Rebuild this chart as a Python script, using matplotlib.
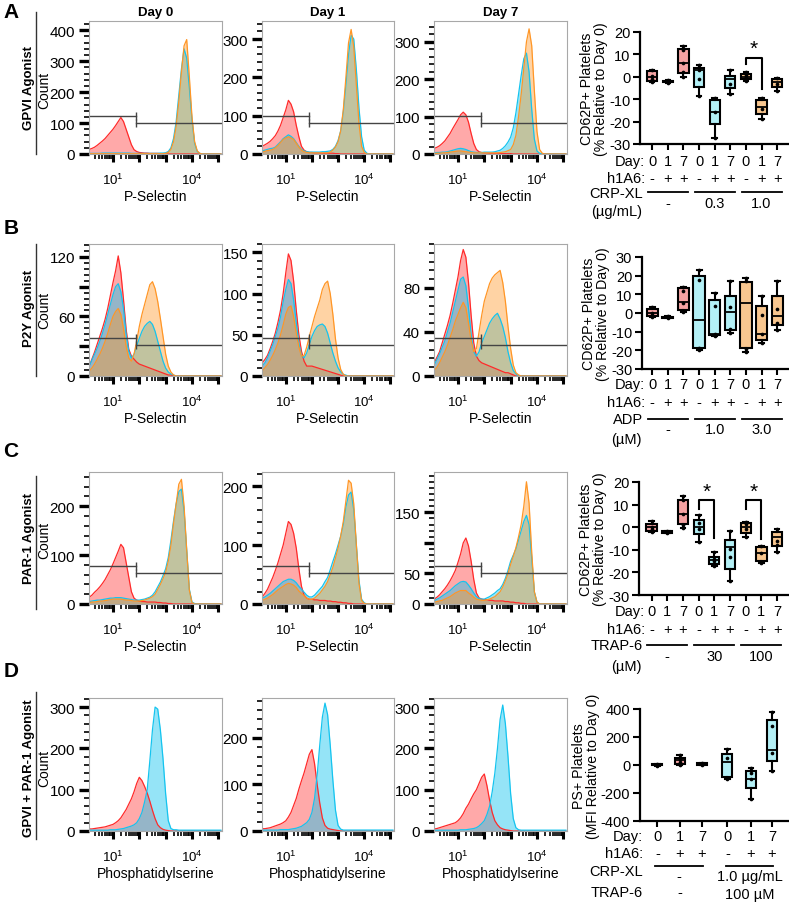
import numpy as np
import matplotlib
matplotlib.use('Agg')
import matplotlib.pyplot as plt
from matplotlib.ticker import FixedLocator, FixedFormatter, AutoMinorLocator, NullFormatter
from matplotlib.transforms import blended_transform_factory

plt.rcParams['font.family'] = ['Liberation Sans', 'DejaVu Sans']
plt.rcParams['mathtext.fontset'] = 'custom'
plt.rcParams['mathtext.rm'] = 'Liberation Sans'
plt.rcParams['mathtext.it'] = 'Liberation Sans:italic'
plt.rcParams['axes.unicode_minus'] = False

W, H = 789, 903
fig = plt.figure(figsize=(W / 100, H / 100), dpi=100)

# ---------------- histogram data (log10 fluorescence grid, counts) ----------------
LOGX = [0.1, 0.2, 0.3, 0.4, 0.5, 0.6, 0.7, 0.8, 0.9, 1.0,
        1.1, 1.2, 1.3, 1.4, 1.5, 1.6, 1.7, 1.8, 1.9, 2.0,
        2.1, 2.2, 2.3, 2.4, 2.5, 2.6, 2.7, 2.8, 2.9, 3.0,
        3.1, 3.2, 3.3, 3.4, 3.5, 3.6, 3.7, 3.8, 3.9, 4.0,
        4.1, 4.2, 4.3, 4.4, 4.5, 4.6, 4.7, 4.8, 4.9, 5.0, 5.1]
Z10 = [0] * 10

A0_red = [15, 18, 22, 28, 35, 42, 50, 60, 70, 80, 92, 105, 118, 105, 80, 55, 30, 14, 8, 5,
          4, 3, 3, 2, 2, 2, 2, 1, 1, 1] + Z10 + Z10 + [0]
A0_cyan = [2, 2, 2, 2, 2, 3, 3, 3, 3, 3, 3, 3, 3, 3, 3, 3, 2, 2, 2, 2,
           2, 2, 2, 2, 2, 2, 2, 3, 3, 4, 8, 20, 50, 105, 190, 275, 340, 310, 215, 110,
           35, 8, 2, 0, 0, 0, 0, 0, 0, 0, 0]
A0_orange = [1] * 20 + [1, 1, 1, 1, 1, 1, 1, 1, 1, 2,
                        5, 15, 40, 90, 170, 265, 350, 370, 250, 120,
                        40, 10, 2, 0, 0, 0, 0, 0, 0, 0, 0]
A1_red = [20, 24, 28, 33, 40, 48, 60, 75, 95, 115, 140, 130, 110, 75, 45, 20, 10, 6, 4, 4,
          3, 3, 3, 2, 2, 2, 2, 2, 1, 1] + Z10 + Z10 + [0]
A1_cyan = [8, 10, 12, 14, 15, 18, 25, 32, 40, 45, 50, 46, 40, 30, 20, 12, 8, 6, 5, 5,
           5, 5, 5, 6, 6, 7, 8, 12, 20, 35, 60, 110, 180, 260, 310, 300, 220, 120, 45, 10,
           2, 0, 0, 0, 0, 0, 0, 0, 0, 0, 0]
A1_orange = [5, 7, 9, 10, 12, 16, 22, 30, 38, 42, 45, 42, 38, 28, 18, 10, 6, 4, 3, 3,
             3, 3, 3, 3, 3, 3, 5, 10, 18, 32, 60, 115, 200, 290, 325, 280, 180, 80, 20, 4,
             0, 0, 0, 0, 0, 0, 0, 0, 0, 0, 0]
A7_red = [15, 18, 22, 28, 35, 45, 55, 68, 80, 92, 105, 112, 105, 85, 55, 28, 12, 6, 4, 3,
          3, 2, 2, 2, 2, 2, 1, 1, 1, 1] + Z10 + Z10 + [0]
A7_cyan = [3, 4, 4, 5, 5, 6, 8, 10, 12, 14, 15, 14, 12, 9, 6, 5, 4, 4, 4, 5,
           5, 5, 5, 6, 8, 10, 15, 22, 32, 45, 70, 110, 160, 210, 255, 270, 220, 120, 40, 8,
           2, 0, 0, 0, 0, 0, 0, 0, 0, 0, 0]
A7_orange = [1, 2, 2, 3, 3, 4, 5, 6, 7, 8, 8, 7, 6, 5, 4, 3, 3, 3, 3, 3,
             3, 3, 3, 3, 3, 4, 5, 6, 9, 12, 25, 50, 100, 160, 230, 300, 335, 290, 170, 60,
             12, 2, 0, 0, 0, 0, 0, 0, 0, 0, 0]

B0_red = [10, 17, 24, 32, 40, 48, 57, 68, 81, 94, 106, 121, 104, 77, 47, 27, 20, 17, 14, 12,
          11, 10, 9, 8, 7, 6, 5, 4, 3, 2, 1, 1, 0, 0, 0, 0, 0, 0, 0, 0] + Z10 + [0]
B0_cyan = [10, 16, 22, 28, 35, 43, 52, 62, 72, 82, 90, 93, 85, 68, 42, 25, 18, 22, 30, 38,
           45, 50, 53, 55, 52, 45, 35, 25, 15, 8, 4, 2, 1, 0, 0, 0, 0, 0, 0, 0] + Z10 + [0]
B0_orange = [5, 8, 12, 17, 22, 28, 35, 43, 52, 60, 65, 68, 62, 48, 30, 18, 15, 22, 35, 50,
             62, 72, 82, 92, 95, 88, 75, 58, 40, 22, 10, 4, 1, 0, 0, 0, 0, 0, 0, 0] + Z10 + [0]
B1_red = [16, 20, 25, 33, 42, 52, 65, 80, 100, 125, 148, 140, 115, 80, 50, 30, 18, 12, 12, 12,
          11, 10, 9, 8, 7, 6, 5, 4, 3, 2, 1, 0, 0, 0, 0, 0, 0, 0, 0, 0] + Z10 + [0]
B1_cyan = [12, 16, 22, 30, 38, 48, 58, 72, 90, 105, 117, 112, 92, 65, 40, 25, 22, 28, 38, 48,
           55, 60, 62, 63, 60, 52, 40, 28, 18, 10, 5, 2, 1, 0, 0, 0, 0, 0, 0, 0] + Z10 + [0]
B1_orange = [6, 10, 14, 19, 25, 32, 40, 50, 62, 75, 83, 85, 72, 52, 35, 24, 25, 35, 48, 60,
             72, 82, 92, 105, 112, 115, 100, 75, 45, 22, 8, 2, 0, 0, 0, 0, 0, 0, 0, 0] + Z10 + [0]
B7_red = [12, 17, 22, 30, 38, 46, 55, 66, 78, 90, 105, 115, 108, 85, 55, 30, 18, 14, 12, 11,
          10, 9, 8, 7, 6, 5, 4, 3, 3, 2, 1, 0, 0, 0, 0, 0, 0, 0, 0, 0] + Z10 + [0]
B7_cyan = [10, 15, 20, 26, 32, 40, 48, 58, 68, 78, 88, 90, 82, 62, 38, 22, 18, 22, 30, 36,
           42, 48, 52, 55, 57, 52, 45, 35, 22, 12, 5, 2, 0, 0, 0, 0, 0, 0, 0, 0] + Z10 + [0]
B7_orange = [5, 8, 12, 17, 22, 28, 35, 42, 50, 56, 62, 67, 62, 48, 32, 22, 25, 40, 55, 68,
             76, 84, 89, 92, 94, 96, 85, 68, 45, 25, 10, 3, 1, 0, 0, 0, 0, 0, 0, 0] + Z10 + [0]

C0_red = [14, 18, 24, 29, 35, 42, 50, 60, 70, 82, 95, 108, 122, 115, 85, 55, 25, 12, 8, 6,
          5, 5, 4, 4, 4, 4, 3, 3, 2, 2, 1, 1, 0, 0, 0, 0, 0, 0, 0, 0] + Z10 + [0]
C0_cyan = [5, 6, 7, 8, 8, 9, 10, 11, 12, 12, 13, 13, 13, 12, 11, 10, 9, 8, 8, 8,
           9, 10, 12, 14, 18, 25, 35, 45, 58, 72, 95, 130, 170, 205, 230, 235, 190, 110, 30, 4,
           1, 0, 0, 0, 0, 0, 0, 0, 0, 0, 0]
C0_orange = [3, 4, 4, 5, 6, 6, 7, 8, 9, 10, 10, 10, 10, 9, 8, 8, 7, 6, 6, 6,
             7, 8, 10, 12, 15, 20, 30, 40, 52, 65, 88, 120, 165, 205, 245, 255, 200, 110, 28, 3,
             0, 0, 0, 0, 0, 0, 0, 0, 0, 0, 0]
C1_red = [12, 18, 25, 35, 45, 57, 70, 85, 100, 120, 140, 135, 120, 95, 60, 30, 15, 10, 8, 8,
          7, 7, 6, 6, 6, 5, 5, 4, 4, 3, 3, 2, 2, 1, 1, 0, 0, 0, 0, 0] + Z10 + [0]
C1_cyan = [10, 12, 15, 18, 22, 26, 30, 34, 38, 40, 42, 42, 40, 36, 30, 25, 20, 15, 12, 12,
           15, 20, 25, 30, 38, 45, 58, 72, 85, 100, 115, 135, 165, 185, 190, 160, 100, 40, 8, 2,
           0, 0, 0, 0, 0, 0, 0, 0, 0, 0, 0]
C1_orange = [6, 8, 10, 13, 16, 20, 24, 27, 30, 33, 35, 34, 32, 28, 22, 18, 14, 10, 8, 8,
             10, 14, 18, 24, 30, 38, 50, 62, 78, 95, 115, 140, 175, 210, 205, 170, 100, 35, 6, 1,
             0, 0, 0, 0, 0, 0, 0, 0, 0, 0, 0]
C7_red = [8, 11, 15, 20, 25, 31, 38, 46, 55, 68, 82, 100, 108, 95, 70, 40, 18, 10, 8, 7,
          7, 6, 6, 5, 5, 5, 5, 4, 4, 3, 3, 2, 2, 1, 1, 0, 0, 0, 0, 0] + Z10 + [0]
C7_cyan = [5, 8, 10, 13, 16, 19, 22, 26, 30, 33, 36, 37, 36, 31, 25, 18, 12, 9, 8, 8,
           10, 12, 15, 18, 22, 25, 32, 42, 55, 70, 80, 90, 105, 120, 135, 145, 130, 75, 20, 3,
           0, 0, 0, 0, 0, 0, 0, 0, 0, 0, 0]
C7_orange = [3, 4, 5, 6, 8, 10, 12, 15, 18, 20, 22, 22, 22, 18, 15, 11, 8, 7, 6, 6,
             7, 8, 10, 12, 16, 20, 28, 38, 50, 65, 78, 92, 110, 130, 160, 200, 165, 85, 20, 3,
             0, 0, 0, 0, 0, 0, 0, 0, 0, 0, 0]

D0_red = [5, 5, 6, 7, 8, 9, 10, 12, 14, 16, 20, 25, 32, 42, 52, 65, 78, 95, 115, 130,
          122, 108, 92, 72, 50, 30, 15, 8, 4, 2, 1, 0, 0, 0, 0, 0, 0, 0, 0, 0] + Z10 + [0]
D0_cyan = [2, 2, 2, 2, 2, 2, 2, 2, 3, 3, 3, 4, 5, 6, 8, 10, 12, 15, 20, 30,
           45, 70, 100, 170, 245, 300, 295, 245, 175, 90, 25, 6, 3, 3, 2, 2, 2, 2, 2, 2,
           2, 2, 2, 2, 2, 2, 2, 2, 2, 2, 2]
D1_red = [5, 5, 6, 7, 9, 11, 13, 15, 18, 22, 30, 40, 55, 70, 90, 108, 125, 145, 165, 175,
          145, 100, 60, 28, 12, 6, 4, 3, 2, 1] + Z10 + Z10 + [0]
D1_cyan = [2, 2, 2, 2, 2, 2, 2, 3, 3, 3, 3, 4, 5, 6, 8, 10, 14, 18, 25, 40,
           70, 120, 185, 245, 275, 250, 185, 110, 45, 12, 4, 2, 2, 2, 2, 2, 2, 2, 2, 2,
           2, 2, 2, 2, 2, 2, 2, 2, 2, 2, 2]
D7_red = [5, 6, 8, 10, 12, 14, 16, 18, 20, 25, 32, 42, 55, 65, 78, 90, 100, 115, 130, 138,
          110, 75, 45, 25, 15, 8, 5, 3, 2, 1] + Z10 + Z10 + [0]
D7_cyan = [2, 2, 2, 2, 2, 2, 2, 2, 2, 2, 3, 3, 3, 4, 5, 6, 8, 12, 18, 25,
           40, 60, 95, 140, 200, 270, 305, 260, 180, 90, 30, 8, 3, 2, 2, 2, 2, 2, 2, 2,
           2, 2, 2, 2, 2, 2, 2, 2, 2, 2, 2]

# y-axis settings of the histograms
HIST_YMAX = {'A': [430, 347, 356], 'B': [133, 160, 120], 'C': [270, 224, 216], 'D': [322, 286, 322]}
HIST_YTICKS = {'A': [[0, 100, 200, 300, 400], [0, 100, 200, 300], [0, 100, 200, 300]],
               'B': [[0, 30, 60, 90, 120], [0, 50, 100, 150], [0, 40, 80]],
               'C': [[0, 100, 200], [0, 100, 200], [0, 50, 100, 150]],
               'D': [[0, 100, 200, 300], [0, 100, 200], [0, 100, 200, 300]]}
HIST_YLABELS = {'A': [['0', '100', '200', '300', '400'], ['0', '100', '200', '300'], ['0', '100', '200', '300']],
                'B': [['0', '', '60', '', '120'], ['0', '50', '100', '150'], ['0', '40', '80']],
                'C': [['0', '100', '200'], ['0', '100', '200'], ['0', '50', '', '150']],
                'D': [['0', '100', '200', '300'], ['0', '100', '200'], ['0', '100', '200', '300']]}
DAYS = ['Day 0', 'Day 1', 'Day 7']
ROW_NAMES = ['GPVI Agonist', 'P2Y Agonist', 'PAR-1 Agonist', 'GPVI + PAR-1 Agonist']
GATE_LOG = 1.89

# ---------------- box plot data ----------------
A_POS = [1, 2, 3, 4, 5, 6, 7, 8, 9]
A_WHISHI = [3.0, -1.5, 13.9, 5.2, -9.4, 3.1, 2.2, -9.4, -0.7]
A_Q3 = [2.7, -1.8, 12.4, 3.9, -10.4, 0.4, 1.2, -10.3, -1.0]
A_MED = [0.0, -2.1, 6.0, 3.0, -15.7, -1.0, 0.0, -13.5, -2.5]
A_Q1 = [-1.8, -2.4, 1.9, -4.5, -20.9, -4.8, -1.0, -16.7, -4.5]
A_WHISLO = [-2.2, -2.6, 0.0, -8.5, -27.2, -7.8, -1.8, -18.7, -6.3]
A_PTS = [[3.0, 0.5, -0.8, -2.2], [-1.5, -2.0, -2.3, -2.6], [13.9, 12.0, 6.0, 2.0, 0.0],
         [5.2, 3.0, -1.2, -8.5], [-9.4, -15.7, -27.2], [3.1, -3.3, -7.8],
         [2.2, 1.0, 0.0, -1.8], [-9.4, -14.5, -18.7], [-0.7, -3.0, -6.3]]

B_POS = [1, 2, 3, 4, 5, 6, 7, 8, 9]
B_WHISHI = [3.0, -1.8, 13.8, 23.3, 10.8, 17.0, 18.8, 9.0, 17.4]
B_Q3 = [2.0, -2.0, 13.3, 19.7, 7.0, 9.3, 16.5, 3.6, 9.0]
B_MED = [0.0, -2.2, 5.7, -3.6, -11.3, 0.7, 5.2, -11.3, -1.4]
B_Q1 = [-1.6, -2.5, 1.8, -18.8, -11.6, -9.0, -19.0, -14.3, -6.5]
B_WHISLO = [-2.3, -2.7, 0.4, -19.7, -12.5, -10.8, -21.1, -16.1, -9.0]
B_PTS = [[3.0, 0.0, -1.0, -2.3], [-1.8, -2.2, -2.7], [13.8, 12.0, 5.5, 1.0, 0.4],
         [23.3, 17.7, -19.0, -19.7], [10.8, 3.6, -11.3, -12.5], [17.0, 3.0, -8.5, -10.8],
         [18.8, 17.0, -19.5, -21.1], [9.0, -0.9, -11.0, -16.1], [17.4, 2.2, -5.5, -9.0]]

C_POS = [1, 2, 3, 4, 5, 6, 7, 8, 9]
C_WHISHI = [2.7, -1.5, 13.6, 5.5, -11.1, -1.9, 2.2, -8.2, -1.0]
C_Q3 = [1.2, -1.8, 12.2, 3.0, -13.1, -5.6, 1.8, -8.9, -2.2]
C_MED = [0.0, -2.1, 5.9, 0.0, -14.5, -8.9, 0.0, -11.4, -4.5]
C_Q1 = [-1.5, -2.4, 1.5, -3.0, -16.3, -18.5, -2.5, -14.8, -8.2]
C_WHISLO = [-2.2, -2.6, -0.4, -6.4, -17.1, -23.7, -4.5, -16.0, -10.8]
C_PTS = [[2.7, 0.0, -1.0, -2.2], [-1.5, -2.0, -2.3, -2.6], [13.6, 12.0, 6.0, 1.0, -0.4],
         [5.5, 2.0, -1.0, -6.4], [-11.1, -14.0, -15.0, -17.1], [-1.9, -9.5, -13.4, -23.7],
         [2.2, 1.5, -1.0, -4.5], [-8.2, -11.6, -15.5, -16.0], [-1.0, -6.2, -8.0, -10.8]]

D_POS = [1, 2, 3, 4.15, 5.2, 6.15]
D_WHISHI = [10, 72, 17, 112, -24, 382]
D_Q3 = [5, 48, 14, 76, -43, 320]
D_MED = [0, 33, 10, 24, -103, 107]
D_Q1 = [-3, 10, 2, -86, -167, 29]
D_WHISLO = [-7, 0, -2, -98, -241, -43]
D_PTS = [[8, 2, -3, -7], [72, 40, 20, 0], [17, 8, -2], [112, 48, -90, -98],
         [-24, -60, -103, -241], [382, 279, 83, -43]]

DAY_LABELS = ['0', '1', '7', '0', '1', '7', '0', '1', '7']
H1A6_LABELS = ['-', '+', '+', '-', '+', '+', '-', '+', '+']

PINK, CYANF, ORANGEF = '#f5a3a3', '#b3f0f6', '#f8c68f'
RED, CYAN, ORANGE = '#ff2a2a', '#14c4ef', '#ff9626'


def fx(px):
    return px / W


def fy(py):
    return 1 - py / H


def rect(x0, x1, y0, y1):
    return [fx(x0), fy(y1), (x1 - x0) / W, (y1 - y0) / H]


HIST_X = [(89, 222), (262, 394), (434, 567)]
HIST_Y = {'A': (22, 155), 'B': (245, 377), 'C': (473, 605), 'D': (699, 832)}
HIST_DATA = {
    'A': [[(A0_red, RED), (A0_cyan, CYAN), (A0_orange, ORANGE)],
          [(A1_red, RED), (A1_cyan, CYAN), (A1_orange, ORANGE)],
          [(A7_red, RED), (A7_cyan, CYAN), (A7_orange, ORANGE)]],
    'B': [[(B0_red, RED), (B0_cyan, CYAN), (B0_orange, ORANGE)],
          [(B1_red, RED), (B1_cyan, CYAN), (B1_orange, ORANGE)],
          [(B7_red, RED), (B7_cyan, CYAN), (B7_orange, ORANGE)]],
    'C': [[(C0_red, RED), (C0_cyan, CYAN), (C0_orange, ORANGE)],
          [(C1_red, RED), (C1_cyan, CYAN), (C1_orange, ORANGE)],
          [(C7_red, RED), (C7_cyan, CYAN), (C7_orange, ORANGE)]],
    'D': [[(D0_red, RED), (D0_cyan, CYAN)],
          [(D1_red, RED), (D1_cyan, CYAN)],
          [(D7_red, RED), (D7_cyan, CYAN)]],
}
FILL_ALPHA = {RED: 0.4, CYAN: 0.45, ORANGE: 0.42}

xgrid = 10 ** np.array(LOGX)
XMIN, XMAX = 10 ** 0.09, 10 ** 5.14

for r, row in enumerate('ABCD'):
    y0, y1 = HIST_Y[row]
    for c in range(3):
        x0, x1 = HIST_X[c]
        ax = fig.add_axes(rect(x0, x1, y0, y1))
        for vals, col in HIST_DATA[row][c]:
            ax.fill_between(xgrid, vals, color=col, alpha=FILL_ALPHA[col], lw=0)
            ax.plot(xgrid, vals, color=col, lw=0.9)
        ax.set_xscale('log')
        ax.set_xlim(XMIN, XMAX)
        ax.set_ylim(0, HIST_YMAX[row][c])
        for s in ax.spines.values():
            s.set_color('#a8a8a8')
            s.set_linewidth(0.8)
        ax.xaxis.set_major_locator(FixedLocator([10 ** k for k in range(0, 6)]))
        ax.xaxis.set_major_formatter(FixedFormatter(['', r'$10^1$', '', '', r'$10^4$', '']))
        ax.xaxis.set_minor_locator(FixedLocator([m * 10 ** k for k in range(0, 6) for m in range(2, 10)]))
        ax.xaxis.set_minor_formatter(NullFormatter())
        ax.tick_params(axis='x', which='major', direction='out', length=6, width=2.2, pad=7, labelsize=9.5)
        ax.tick_params(axis='x', which='minor', direction='out', length=3.5, width=1.2)
        ax.yaxis.set_major_locator(FixedLocator(HIST_YTICKS[row][c]))
        ax.yaxis.set_major_formatter(FixedFormatter(HIST_YLABELS[row][c]))
        ax.yaxis.set_minor_locator(AutoMinorLocator(5))
        ax.tick_params(axis='y', which='major', direction='out', length=7, width=2.4, pad=3, labelsize=11)
        ax.tick_params(axis='y', which='minor', direction='out', length=3.5, width=1.2)
        xl = 'Phosphatidylserine' if row == 'D' else 'P-Selectin'
        ax.set_xlabel(xl, fontsize=10, labelpad=1)
        if row != 'D':
            tr = ax.get_xaxis_transform()
            g = 10 ** GATE_LOG
            ax.plot([XMIN, g], [0.286, 0.286], transform=tr, color='#444444', lw=1.0)
            ax.plot([g], [0.286], transform=tr, marker='|', ms=6, mew=1.0, color='#444444')
            ax.plot([g, XMAX], [0.233, 0.233], transform=tr, color='#444444', lw=1.0)
            ax.plot([g], [0.233], transform=tr, marker='|', ms=6, mew=1.0, color='#444444')
        if row == 'A':
            ax.set_title(DAYS[c], fontsize=9.5, fontweight='bold', pad=4)

# row labels
ROW_LABEL_Y = [88, 308, 539, 768]
ROW_LINE = [(13, 155), (245, 377), (477, 610), (693, 840)]
COUNT_Y = [90, 310, 540, 768]
LETTER_Y = [13, 228, 452, 672]
for i, name in enumerate(ROW_NAMES):
    fig.text(fx(29), fy(ROW_LABEL_Y[i]), name, rotation=90, ha='center', va='center',
             fontsize=9.5, fontweight='bold')
    fig.add_artist(plt.Line2D([fx(36), fx(36)], [fy(ROW_LINE[i][0]), fy(ROW_LINE[i][1])],
                              color='#333333', lw=1.0))
    fig.text(fx(44), fy(COUNT_Y[i]), 'Count', rotation=90, ha='center', va='center', fontsize=10)
    fig.text(fx(11), fy(LETTER_Y[i]), 'ABCD'[i], ha='center', va='center', fontsize=15, fontweight='bold')


# ---------------- box plots ----------------
def box_panel(px, py, xlim, ylim, yticks, pos, whishi, q3, med, q1, whislo, pts, colors, width, ylabel):
    ax = fig.add_axes(rect(px[0], px[1], py[0], py[1]))
    stats = [dict(med=m, q1=a, q3=b, whislo=lo, whishi=hi)
             for m, a, b, lo, hi in zip(med, q1, q3, whislo, whishi)]
    bp = ax.bxp(stats, positions=pos, widths=width, patch_artist=True, showfliers=False,
                boxprops=dict(linewidth=1.5, edgecolor='black'),
                whiskerprops=dict(linewidth=1.5, color='black'),
                capprops=dict(linewidth=1.5, color='black'),
                medianprops=dict(linewidth=1.3, color='black'),
                capwidths=width * 0.45)
    for patch, col in zip(bp['boxes'], colors):
        patch.set_facecolor(col)
    for p, vals in zip(pos, pts):
        ax.scatter([p] * len(vals), vals, s=7, color='black', zorder=5, linewidths=0)
    ax.set_xlim(*xlim)
    ax.set_ylim(*ylim)
    ax.set_yticks(yticks)
    ax.set_xticks(pos)
    ax.set_xticklabels([])
    for s in ['top', 'right']:
        ax.spines[s].set_visible(False)
    for s in ['left', 'bottom']:
        ax.spines[s].set_linewidth(1.6)
    ax.tick_params(axis='y', direction='out', length=5, width=1.5, labelsize=10.5, pad=2)
    ax.tick_params(axis='x', direction='out', length=4, width=1.5)
    ax.set_ylabel(ylabel, fontsize=10.2, labelpad=0.5, linespacing=1.05)
    return ax


def table(ax, pos, rows, lab_x):
    bt = blended_transform_factory(ax.transData, fig.transFigure)
    for lab, ypx, vals in rows:
        fig.text(fx(lab_x), fy(ypx), lab, ha='right', va='center', fontsize=10.5)
        if vals is not None:
            for p, v in zip(pos, vals):
                ax.text(p, fy(ypx), v, transform=bt, ha='center', va='center', fontsize=10.5)
    return bt


def group_lines(ax, spans, ypx, labels, lab_ypx, fs=10.5):
    bt = blended_transform_factory(ax.transData, fig.transFigure)
    for (a, b), lab in zip(spans, labels):
        ax.plot([a, b], [fy(ypx), fy(ypx)], transform=bt, color='black', lw=1.3, clip_on=False)
        ax.text((a + b) / 2, fy(lab_ypx), lab, transform=bt, ha='center', va='center', fontsize=fs)


def bracket(ax, x0, x1, ytop, yl, yr, star_y):
    ax.plot([x0, x0, x1, x1], [yl, ytop, ytop, yr], color='black', lw=1.5)
    ax.text((x0 + x1) / 2, star_y, '*', ha='center', va='center', fontsize=15)


COLS9 = [PINK] * 3 + [CYANF] * 3 + [ORANGEF] * 3
YL = 'CD62P+ Platelets\n(% Relative to Day 0)'
SPANS9 = [(0.72, 3.28), (3.72, 6.28), (6.72, 9.28)]

axA = box_panel((640, 792), (33, 145), (0.22, 9.95), (-30, 20), [-30, -20, -10, 0, 10, 20],
                A_POS, A_WHISHI, A_Q3, A_MED, A_Q1, A_WHISLO, A_PTS, COLS9, 0.65, YL)
bracket(axA, 7, 8, 8.2, 5.7, -5.5, 12.5)
table(axA, A_POS, [('Day:', 162, DAY_LABELS), ('h1A6:', 179, H1A6_LABELS)], 645)
fig.text(fx(643), fy(194), 'CRP-XL', ha='right', va='center', fontsize=10.5)
fig.text(fx(642), fy(212), '(µg/mL)', ha='right', va='center', fontsize=10.5)
group_lines(axA, SPANS9, 193, ['-', '0.3', '1.0'], 204)

axB = box_panel((642, 792), (258, 370), (0.35, 9.95), (-30, 30), [-30, -20, -10, 0, 10, 20, 30],
                B_POS, B_WHISHI, B_Q3, B_MED, B_Q1, B_WHISLO, B_PTS, COLS9, 0.72, YL)
table(axB, B_POS, [('Day:', 385, DAY_LABELS), ('h1A6:', 403, H1A6_LABELS)], 645)
fig.text(fx(643), fy(420), 'ADP', ha='right', va='center', fontsize=10.5)
fig.text(fx(642), fy(440), '(µM)', ha='right', va='center', fontsize=10.5)
group_lines(axB, SPANS9, 420, ['-', '1.0', '3.0'], 430)

axC = box_panel((639, 792), (483, 596), (0.2, 9.95), (-30, 20), [-30, -20, -10, 0, 10, 20],
                C_POS, C_WHISHI, C_Q3, C_MED, C_Q1, C_WHISLO, C_PTS, COLS9, 0.65, YL)
bracket(axC, 4, 5, 11.9, 8.2, -4.9, 16.0)
bracket(axC, 7, 8, 11.9, 8.2, -5.2, 16.0)
table(axC, C_POS, [('Day:', 612, DAY_LABELS), ('h1A6:', 630, H1A6_LABELS)], 645)
fig.text(fx(643), fy(646), 'TRAP-6', ha='right', va='center', fontsize=10.5)
fig.text(fx(642), fy(667), '(µM)', ha='right', va='center', fontsize=10.5)
group_lines(axC, SPANS9, 646, ['-', '30', '100'], 657)

axD = box_panel((640, 792), (710, 822), (0.22, 7.05), (-400, 400), [-400, -200, 0, 200, 400],
                D_POS, D_WHISHI, D_Q3, D_MED, D_Q1, D_WHISLO, D_PTS, [PINK] * 3 + [CYANF] * 3, 0.45,
                'PS+ Platelets\n(MFI Relative to Day 0)')
table(axD, D_POS, [('Day:', 837, DAY_LABELS[:6]), ('h1A6:', 854, H1A6_LABELS[:6])], 643)
fig.text(fx(643), fy(872), 'CRP-XL', ha='right', va='center', fontsize=10.5)
fig.text(fx(643), fy(893), 'TRAP-6', ha='right', va='center', fontsize=10.5)
group_lines(axD, [(0.9, 3.05), (4.1, 6.2)], 867, ['-', '1.0 µg/mL'], 877)
btD = blended_transform_factory(axD.transData, fig.transFigure)
axD.text(2.0, fy(893), '-', transform=btD, ha='center', va='center', fontsize=10.5)
axD.text(5.15, fy(895), '100 µM', transform=btD, ha='center', va='center', fontsize=10.5)

fig.savefig('out.png', dpi=100)
